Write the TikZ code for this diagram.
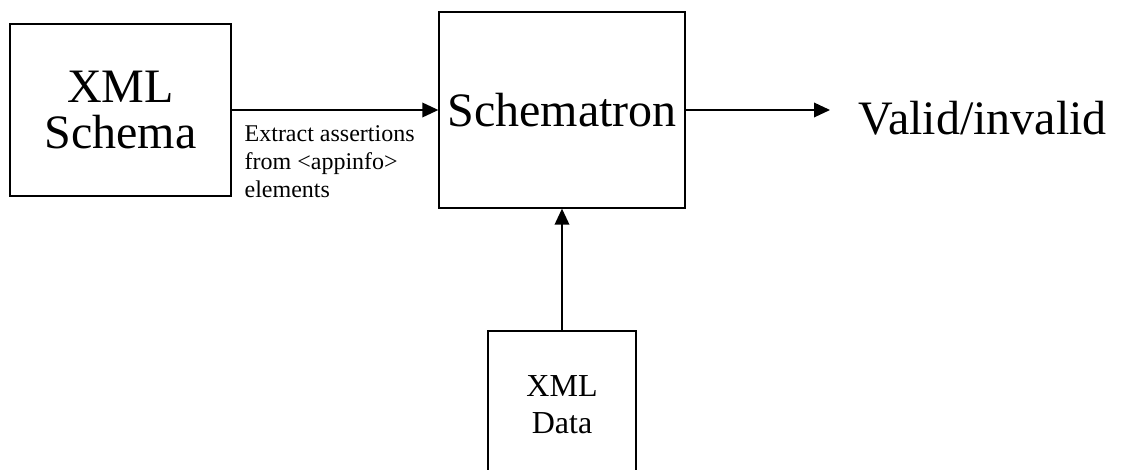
\documentclass[tikz,border=0pt]{standalone}
\usepackage{fontspec}
\setmainfont{Liberation Serif}
\usetikzlibrary{arrows.meta}
\begin{document}
\begin{tikzpicture}[x=0.75pt, y=-0.75pt, line width=1pt, line join=miter, >={Triangle[length=12pt,width=11pt]},
		box/.style={draw, rectangle, inner sep=0pt, align=center},
		big/.style={font=\fontsize{36}{35}\selectfont}]
			\clip (0,0) rectangle (1122,470);
			% the three boxes
			\node[box, big, minimum width=165.75pt, minimum height=129pt] (xsd) at (120.5,110) {XML\\Schema};
			\node[box, big, minimum width=184.5pt, minimum height=147pt] (sch) at (562,110) {Schematron};
			\node[box, font=\fontsize{24}{28}\selectfont, minimum width=111pt, minimum height=111pt] (data) at (562,405) {XML\\Data};
			\node[big, anchor=base west, inner sep=0pt] (result) at (858,135) {Valid/invalid};
			\node[anchor=north west, inner sep=0pt, align=left, font=\fontsize{18}{21}\selectfont] (note) at (244,125) {Extract assertions\\from <appinfo>\\elements};
			% connectors
			\draw[->] (xsd.east)--(sch.west);
			\draw[->, shorten >=21pt] (sch.east)--(sch.east -| result.west);
			\draw[->] (data.north)--(sch.south);
		\end{tikzpicture}
\end{document}
